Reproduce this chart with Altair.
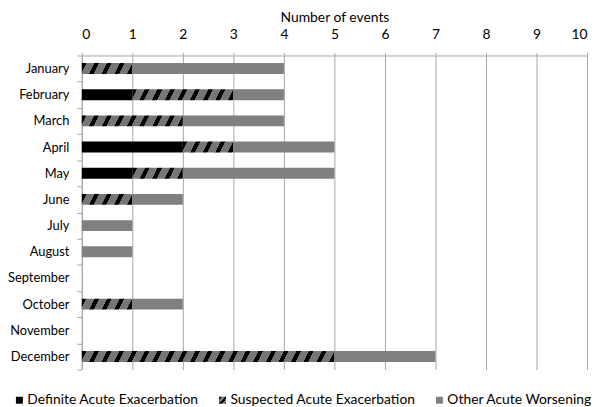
import json
import math
import altair as alt
import pandas as pd

months = ["January", "February", "March", "April", "May", "June", "July",
          "August", "September", "October", "November", "December"]
series = ["Definite Acute Exacerbation", "Suspected Acute Exacerbation",
          "Other Acute Worsening"]
definite = [0, 1, 0, 2, 1, 0, 0, 0, 0, 0, 0, 0]
suspected = [1, 2, 2, 1, 1, 1, 0, 0, 0, 1, 0, 5]
other = [3, 1, 2, 2, 3, 1, 1, 1, 0, 1, 0, 2]
x_ticks = list(range(0, 11))

rows = []
for i, m in enumerate(months):
    for j, (s, vals) in enumerate(zip(series, [definite, suspected, other])):
        if vals[i] > 0:
            rows.append({"month": m, "series": s, "value": vals[i], "order": j})
df = pd.DataFrame(rows)

PLOT_W = 510
PLOT_H = 317
BAR_H = 11
PX_PER_UNIT = PLOT_W / 10.0
FONT = "Lato"
FS = 14
GRID = "#a6a6a6"
HATCH_BG = "#767676"
OTHER = "#808080"


def hatch(w, h, period, k=2.0, frac=0.36, bg=HATCH_BG, fg="#000000"):
    """Diagonal '/' stripes as a hard-stop linear gradient in bbox units."""
    q = k * w / h
    b = (q + 1) / (q * q + 1)
    a = q * b
    T = period * a / (w * (a + b))
    stops = []
    n = int(math.ceil(1 / T)) + 1
    for i in range(n):
        s = i * T
        m = s + frac * T
        e = (i + 1) * T
        for off, col in [(s, fg), (m, fg), (m, bg), (e, bg)]:
            stops.append({"offset": round(min(off, 1.0), 5), "color": col})
        if e >= 1:
            break
    return {"gradient": "linear", "x1": 0, "y1": 0,
            "x2": round(a, 5), "y2": round(b, 5), "stops": stops}


susp_vals = sorted(set(v for v in suspected if v > 0))
conditions = [
    {"test": f"datum.series === '{series[1]}' && datum.value === {v}",
     "value": hatch(v * PX_PER_UNIT, BAR_H, 12.75)}
    for v in susp_vals
]

legend_grad = hatch(7, 7, 6.0, k=1.2, frac=0.45)
color_range = ["#000000", {"expr": json.dumps(legend_grad)}, OTHER]

chart = alt.Chart(df).mark_bar(size=BAR_H).encode(
    x=alt.X("value:Q", stack="zero",
            scale=alt.Scale(domain=[0, 10], nice=False),
            axis=alt.Axis(orient="top", values=x_ticks, title="Number of events",
                          grid=True, gridColor=GRID, domainColor=GRID, tickColor=GRID,
                          tickSize=3, labelPadding=11, titlePadding=3,
                          labelFontSize=FS, titleFontSize=FS, titleFontWeight="normal",
                          labelFont=FONT, titleFont=FONT, labelColor="#000000",
                          titleColor="#000000")),
    y=alt.Y("month:N", sort=months,
            scale=alt.Scale(domain=months, paddingInner=0, paddingOuter=0),
            axis=alt.Axis(title=None, tickBand="extent", tickSize=5, labelPadding=8,
                          domainColor=GRID, tickColor=GRID, labelFontSize=13,
                          labelFont=FONT, labelColor="#000000", grid=False,
                          labelLimit=0)),
    color=alt.Color("series:N", scale=alt.Scale(domain=series, range=color_range),
                    legend=alt.Legend(title=None, orient="none", legendX=-70, legendY=341,
                                      direction="horizontal", symbolType="square",
                                      symbolSize=49, symbolStrokeWidth=0, labelOffset=1,
                                      columnPadding=17, labelFontSize=FS, labelFont=FONT,
                                      labelColor="#000000", padding=0, labelLimit=0),
                    condition=conditions),
    order=alt.Order("order:Q"),
).properties(
    width=PLOT_W, height=PLOT_H,
    autosize=alt.AutoSizeParams(type="none"),
    padding={"left": 74.5, "top": 46, "right": 5, "bottom": 45},
).configure_view(stroke=None)

chart.save("out.html", embed_options={"renderer": "svg", "actions": False})
